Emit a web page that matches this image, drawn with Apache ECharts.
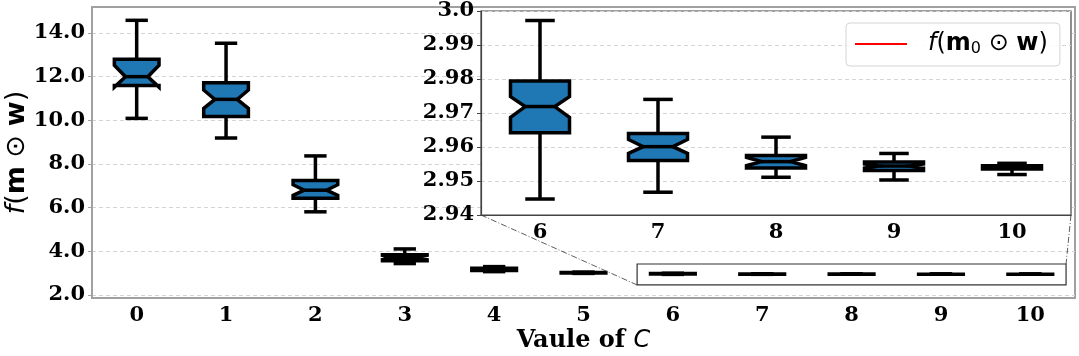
<!DOCTYPE html>
<html>
<head>
<meta charset="utf-8">
<script src="https://cdn.jsdelivr.net/npm/echarts@6/dist/echarts.min.js"></script>
<style>
html,body{margin:0;padding:0;background:#fff}
#main{width:1079px;height:356px}
</style>
</head>
<body>
<div id="main"></div>
<script>
// values of C (x categories)
var categories = ['0','1','2','3','4','5','6','7','8','9','10'];
var insetCategories = ['6','7','8','9','10'];
// box statistics, one entry per C
var lowWhisker  = [10.09, 9.19, 5.81, 3.44, 3.07, 2.99,  2.9447, 2.9467, 2.9511, 2.9503, 2.9519];
var q1          = [11.60, 10.17, 6.43, 3.57, 3.12, 3.005, 2.9642, 2.9560, 2.9538, 2.9531, 2.9535];
var notchLow    = [11.52, 10.55, 6.56, 3.62, 3.14, 3.012, 2.9687, 2.9581, 2.9545, 2.9538, 2.9537];
var median      = [12.00, 10.96, 6.80, 3.72, 3.17, 3.018, 2.9719, 2.9601, 2.9557, 2.9544, 2.9540];
var notchHigh   = [12.52, 11.39, 7.05, 3.82, 3.20, 3.024, 2.9748, 2.9622, 2.9569, 2.9550, 2.9543];
var q3          = [12.80, 11.72, 7.24, 3.84, 3.22, 3.03,  2.9794, 2.9640, 2.9575, 2.9556, 2.9545];
var highWhisker = [14.58, 13.53, 8.37, 4.11, 3.30, 3.05,  2.9972, 2.9740, 2.9629, 2.9581, 2.9552];
// reference value f(m0 . w)
var refValue = 2.95362;
var mainYTicks = [2, 4, 6, 8, 10, 12, 14];
// zoomed region drawn on the main axes
var zoomRectX = [5.6, 10.4];
var zoomRectY = [2.46, 3.42];

var mainData = [];
var insetData = [];
for (var i = 0; i < categories.length; i++) {
    var row = [lowWhisker[i], q1[i], notchLow[i], median[i], notchHigh[i], q3[i], highWhisker[i]];
    mainData.push([i].concat(row));
    if (i >= 6) insetData.push([i - 6].concat(row));
}

function renderBox(params, api) {
    var x = api.value(0);
    var w = api.size([1, 0])[0] * 0.5;
    var cx = api.coord([x, api.value(4)])[0];
    function Y(k) { return api.coord([x, api.value(k)])[1]; }
    var lo = Y(1), b1 = Y(2), nl = Y(3), md = Y(4), nh = Y(5), b3 = Y(6), hi = Y(7);
    var l = cx - w / 2, r = cx + w / 2, ml = cx - w / 4, mr = cx + w / 4;
    var st = {stroke: '#000', lineWidth: 3.5, fill: null};
    return {
        type: 'group',
        children: [
            {type: 'line', shape: {x1: cx, y1: b1, x2: cx, y2: lo}, style: st},
            {type: 'line', shape: {x1: cx, y1: b3, x2: cx, y2: hi}, style: st},
            {type: 'polygon', shape: {points: [
                [l, b1], [r, b1], [r, nl], [mr, md], [r, nh], [r, b3],
                [l, b3], [l, nh], [ml, md], [l, nl]
            ]}, style: {fill: '#1f77b4', stroke: '#000', lineWidth: 3.5, lineJoin: 'miter'}},
            {type: 'line', shape: {x1: ml, y1: md, x2: mr, y2: md}, style: st},
            {type: 'line', shape: {x1: ml, y1: lo, x2: mr, y2: lo}, style: st},
            {type: 'line', shape: {x1: ml, y1: hi, x2: mr, y2: hi}, style: st}
        ]
    };
}

var tickFont = {fontFamily: 'DejaVu Serif', fontWeight: 'bold', fontSize: 21, color: '#000'};
var dash = {type: [4, 3], color: '#d4d4d4', width: 1};

var chart = echarts.init(document.getElementById('main'));
var option = {
    animation: false,
    grid: [
        {left: 92, top: 7, width: 983, height: 291, show: true, borderColor: '#a0a0a0', borderWidth: 2,
         containLabel: false, outerBoundsMode: 'none'},
        {left: 481, top: 11, width: 590, height: 204, show: true, backgroundColor: '#fff',
         borderColor: '#444', borderWidth: 1.2, z: 10, containLabel: false, outerBoundsMode: 'none'}
    ],
    legend: {
        data: [{name: 'ref', icon: 'rect'}],
        left: 846, top: 23, z: 30,
        itemWidth: 52, itemHeight: 2,
        padding: [9, 12, 9, 9],
        backgroundColor: 'rgba(255,255,255,0.85)',
        borderColor: '#d5d5d5', borderWidth: 1, borderRadius: 4,
        formatter: function () { return '{i|f}{n|(}{b|m}{s|0}{n| ⊙ }{b|w}{n|)}'; },
        textStyle: {
            padding: [0, 0, 0, 16],
            rich: {
                i: {fontFamily: 'DejaVu Sans', fontStyle: 'italic', fontSize: 24, color: '#000'},
                n: {fontFamily: 'DejaVu Sans', fontSize: 24, color: '#000'},
                b: {fontFamily: 'DejaVu Sans', fontWeight: 'bold', fontSize: 24, color: '#000'},
                s: {fontFamily: 'DejaVu Sans', fontSize: 16, color: '#000', padding: [10, 0, 0, 0]}
            }
        }
    },
    xAxis: [
        {type: 'category', gridIndex: 0, data: categories, boundaryGap: true,
         axisLine: {lineStyle: {color: '#a0a0a0', width: 2}},
         axisTick: {alignWithLabel: true, length: 4, lineStyle: {color: '#a0a0a0'}},
         axisLabel: Object.assign({margin: 7}, tickFont),
         name: '{s|Vaule of }{i|C}', nameLocation: 'middle', nameGap: 31, nameMoveOverlap: false,
         nameTextStyle: {rich: {
             s: {fontFamily: 'DejaVu Serif', fontWeight: 'bold', fontSize: 24, color: '#000'},
             i: {fontFamily: 'DejaVu Sans', fontStyle: 'italic', fontSize: 24, color: '#000'}
         }}},
        {type: 'category', gridIndex: 1, data: insetCategories, boundaryGap: true, z: 15,
         axisLine: {lineStyle: {color: '#444', width: 1.2}},
         axisTick: {alignWithLabel: true, length: 4, lineStyle: {color: '#444'}},
         axisLabel: Object.assign({margin: 7}, tickFont)}
    ],
    yAxis: [
        {type: 'value', gridIndex: 0, min: 1.863, max: 15.19,
         axisLine: {show: true, lineStyle: {color: '#a0a0a0', width: 2}},
         axisTick: {show: true, length: 4, customValues: mainYTicks, lineStyle: {color: '#a0a0a0'}},
         axisLabel: Object.assign({margin: 7, customValues: mainYTicks,
             formatter: function (v) { return v.toFixed(1); }}, tickFont),
         splitLine: {show: true, lineStyle: dash},
         name: '{i|f}{n|(}{b|m}{n| ⊙ }{b|w}{n|)}', nameLocation: 'middle', nameRotate: 90,
         nameGap: 62, nameMoveOverlap: false,
         nameTextStyle: {rich: {
             i: {fontFamily: 'DejaVu Sans', fontStyle: 'italic', fontSize: 27, color: '#000'},
             n: {fontFamily: 'DejaVu Sans', fontSize: 27, color: '#000'},
             b: {fontFamily: 'DejaVu Sans', fontWeight: 'bold', fontSize: 27, color: '#000'}
         }}},
        {type: 'value', gridIndex: 1, min: 2.94, max: 3.0, interval: 0.01, z: 15,
         axisLine: {show: true, lineStyle: {color: '#444', width: 1.2}},
         axisTick: {show: true, length: 4, lineStyle: {color: '#444'}},
         axisLabel: Object.assign({margin: 7,
             formatter: function (v) { return Math.abs(v - 3) < 1e-9 ? '3.0' : v.toFixed(2); }}, tickFont),
         splitLine: {show: true, lineStyle: dash}}
    ],
    series: [
        {type: 'custom', name: 'main', xAxisIndex: 0, yAxisIndex: 0, z: 2,
         renderItem: renderBox, data: mainData},
        {type: 'custom', name: 'inset', xAxisIndex: 1, yAxisIndex: 1, z: 20,
         renderItem: renderBox, data: insetData},
        {type: 'line', name: 'ref', xAxisIndex: 1, yAxisIndex: 1, z: 25, data: [],
         itemStyle: {color: '#ff0000'}, lineStyle: {color: '#ff0000', width: 2},
         markLine: {silent: true, symbol: ['none', 'none'], label: {show: false},
             lineStyle: {color: '#ff0000', width: 2, type: 'solid'},
             data: [{yAxis: refValue}]}}
    ]
};
chart.setOption(option);

// zoom rectangle and connector lines
var g = {xAxisIndex: 0, yAxisIndex: 0};
var gi = {xAxisIndex: 1, yAxisIndex: 1};
var p6 = chart.convertToPixel(g, [6, zoomRectY[0]]);
var p7 = chart.convertToPixel(g, [7, zoomRectY[1]]);
var band = p7[0] - p6[0];
var rx0 = p6[0] + (zoomRectX[0] - 6) * band;
var rx1 = p6[0] + (zoomRectX[1] - 6) * band;
var ry0 = p6[1], ry1 = p7[1];
var a = chart.convertToPixel(gi, [0, 2.94]);
var b = chart.convertToPixel(gi, [4, 2.94]);
var ib = (b[0] - a[0]) / 4;
var iL = a[0] - ib / 2, iR = b[0] + ib / 2, iB = a[1];
var conn = {stroke: '#333', lineWidth: 0.8, lineDash: [6, 2, 1, 2], fill: null};
chart.setOption({
    graphic: [
        {type: 'rect', z: 5, shape: {x: rx0, y: ry1, width: rx1 - rx0, height: ry0 - ry1},
         style: {stroke: '#333', lineWidth: 1.2, fill: null}},
        {type: 'line', z: 5, shape: {x1: iL, y1: iB, x2: rx0, y2: ry0}, style: conn},
        {type: 'line', z: 5, shape: {x1: iR, y1: iB, x2: rx1, y2: ry1}, style: conn}
    ]
});
</script>
</body>
</html>
